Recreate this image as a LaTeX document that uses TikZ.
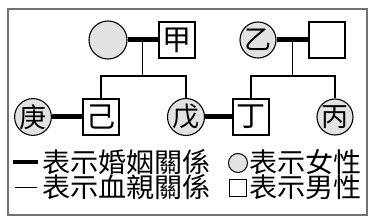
\documentclass[tikz,border=0pt]{standalone}
\usepackage{fontspec}
\setmainfont{Noto Sans CJK TC}
\usetikzlibrary{calc,positioning}
\definecolor{femalegray}{RGB}{226,226,226}
\definecolor{framegray}{RGB}{115,115,115}
\tikzset{
  gfemale/.style={circle, draw=black, fill=femalegray, line width=1.1pt,
                  minimum size=36pt, inner sep=0pt, font=\fontsize{27}{27}\selectfont},
  gmale/.style  ={rectangle, draw=black, fill=white, line width=1.1pt,
                  minimum size=36pt, inner sep=0pt, font=\fontsize{29}{29}\selectfont},
  gline/.style  ={line width=1.3pt, black},
  gmarry/.style ={line width=5pt, black},
  gkey/.style   ={anchor=base west, inner sep=0pt, font=\fontsize{27}{27}\selectfont},
}
\newcommand{\keytext}[1]{\scalebox{1.04}[1]{#1}}
\begin{document}
\begin{tikzpicture}[x=1pt, y=-1pt]
  \useasboundingbox (0,0) rectangle (370,222);
  \draw[framegray, line width=1.5pt] (8,9) rectangle (367,215);
  % parents
  \node[gfemale, minimum size=38pt] (fA) at (108,40) {};
  \node[gmale]   (jia)  at (177,40) {甲};
  \node[gfemale] (yi)   at (258,40) {乙};
  \node[gmale]   (mB)   at (327,40) {};
  % children
  \node[gfemale, minimum size=35pt] (geng) at (33,117)  {庚};
  \node[gmale]   (ji)   at (101,117) {己};
  \node[gfemale] (wu)   at (186,117) {戊};
  \node[gmale]   (ding) at (251,117) {丁};
  \node[gfemale] (bing) at (335,117) {丙};
  \coordinate (jA) at ($(fA)!0.5!(jia)$);
  \coordinate (jB) at ($(yi)!0.5!(mB)$);
  \coordinate (bar) at (0,76);
  \draw[gline] (jA) -- (jA |- bar);
  \draw[gline] (jB) -- (jB |- bar);
  \draw[gline] (ji.north) |- (jA |- bar) -| (wu.north);
  \draw[gline] (ding.north) |- (jB |- bar) -| (bing.north);
  \draw[gmarry] (fA) -- (jia);
  \draw[gmarry] (yi) -- (mB);
  \draw[gmarry] (geng) -- (ji);
  \draw[gmarry] (wu) -- (ding);
  % legend
  \coordinate (kA1) at (13,162);
  \coordinate (kA2) at (38,162);
  \coordinate (kB1) at (15,187);
  \coordinate (kB2) at (37,187);
  \draw[line width=4pt] (kA1) -- (kA2);
  \draw[line width=1pt] (kB1) -- (kB2);
  \node[gkey] (marry) at (42,172) {\keytext{表示婚姻關係}};
  \node[gkey] (blood) at (42,197) {\keytext{表示血親關係}};
  \node[circle, draw=black, fill=femalegray, line width=1pt, minimum size=19pt, inner sep=0pt] (kf) at (238,163) {};
  \node[rectangle, draw=black, line width=1pt, minimum size=17pt, inner sep=0pt] (km) at (238,188) {};
  \node[gkey] (female) at (249,172) {\keytext{表示女性}};
  \node[gkey] (male)   at (249,197) {\keytext{表示男性}};
\end{tikzpicture}
\end{document}
